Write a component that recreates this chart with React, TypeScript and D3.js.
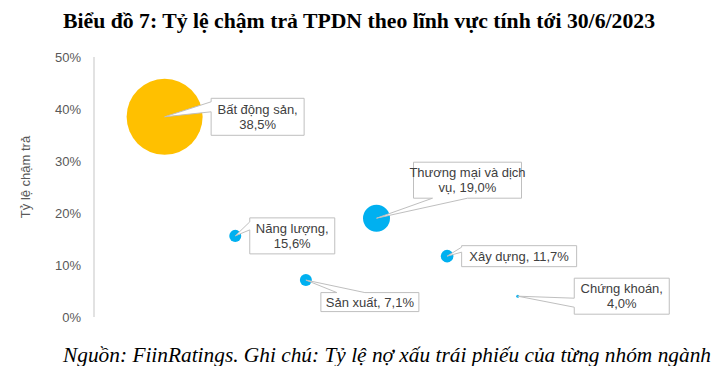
import React from 'react';
import * as d3 from 'd3';

// dữ liệu
const sectors = ['Bất động sản', 'Năng lượng', 'Sản xuất', 'Thương mại và dịch vụ', 'Xây dựng', 'Chứng khoán'];
const order = [1, 2, 3, 4, 5, 6];
const lateRate = [38.5, 15.6, 7.1, 19.0, 11.7, 4.0];
const bubbleSize = [100, 2.5, 2.5, 12.6, 2.75, 0.16];
const yTicks = [0, 10, 20, 30, 40, 50];

// vị trí nhãn (callout) so với tâm bong bóng
const callouts = [
  { dx: 93, dy: 0, w: 93, h: 37, breakAt: 3, side: 'left', b1: -15, b2: -5 },
  { dx: 57, dy: 0, w: 85, h: 36, breakAt: 2, side: 'left', b1: -14, b2: -6 },
  { dx: 64, dy: 22, w: 98, h: 19, breakAt: 0, side: 'top', b1: 31, b2: 59 },
  { dx: 91, dy: -38, w: 108, h: 36, breakAt: 4, side: 'bottom', b1: 56, b2: 91 },
  { dx: 72, dy: 0, w: 115, h: 21, breakAt: 0, side: 'left', b1: -9, b2: -4 },
  { dx: 104, dy: 0, w: 95, h: 36, breakAt: 2, side: 'left', b1: 2, b2: 11 },
];

const Width = 718;
const Height = 366;
const margin = { top: 57, right: 59, bottom: 49, left: 94 };

const fmt = (v: number) => v.toFixed(1).replace('.', ',') + '%';

const calloutPath = (cx: number, cy: number, c: any) => {
  const x0 = cx + c.dx - c.w / 2;
  const x1 = x0 + c.w;
  const y0 = cy + c.dy - c.h / 2;
  const y1 = y0 + c.h;
  if (c.side === 'left') {
    return `M${x0},${y0}H${x1}V${y1}H${x0}V${cy + c.b2}L${cx},${cy}L${x0},${cy + c.b1}Z`;
  }
  if (c.side === 'top') {
    return `M${x0},${y0}H${cx + c.b1}L${cx},${cy}L${cx + c.b2},${y0}H${x1}V${y1}H${x0}Z`;
  }
  return `M${x0},${y0}H${x1}V${y1}H${cx + c.b2}L${cx},${cy}L${cx + c.b1},${y1}H${x0}Z`;
};

const App = () => {
  const chartWidth = Width - margin.left - margin.right;
  const chartHeight = Height - margin.top - margin.bottom;

  const xScale = d3.scaleLinear().domain([0, 8]).range([0, chartWidth]);
  const yScale = d3.scaleLinear().domain([0, 50]).range([chartHeight, 0]);
  const rScale = d3.scaleSqrt().domain([0, d3.max(bubbleSize) as number]).range([0, 38]);

  const points = sectors.map((name, i) => ({
    name,
    x: xScale(order[i]),
    y: yScale(lateRate[i]),
    r: rScale(bubbleSize[i]),
    color: i === 0 ? '#FFC000' : '#00B0F0',
    c: callouts[i],
    words: `${name}, ${fmt(lateRate[i])}`.split(' '),
  }));

  return (
    <svg width={Width} height={Height} style={{ position: 'absolute', left: 0, top: 0, background: '#fff' }}>
      <text x={359} y={28} textAnchor="middle" fontFamily="'Liberation Serif', serif" fontWeight="bold" fontSize={21}
        textLength={592} lengthAdjust="spacingAndGlyphs" fill="#000">
        Biểu đồ 7: Tỷ lệ chậm trả TPDN theo lĩnh vực tính tới 30/6/2023
      </text>

      <g transform={`translate(${margin.left}, ${margin.top})`} fontFamily="'Liberation Sans', Arial, sans-serif">
        <line x1={0} x2={0} y1={0} y2={chartHeight} stroke="#d9d9d9" strokeWidth={1.5} />
        {yTicks.map((t) => (
          <text key={t} x={-13} y={yScale(t)} dy="0.35em" textAnchor="end" fontSize={13} fill="#595959">
            {t}%
          </text>
        ))}
        <text transform={`translate(-69, ${chartHeight / 2 - 10}) rotate(-90)`} textAnchor="middle" dy="0.35em" fontSize={13} fill="#595959">
          Tỷ lệ chậm trả
        </text>

        {points.map((d) => (
          <circle key={d.name} cx={d.x} cy={d.y} r={d.r} fill={d.color} />
        ))}

        {points.map((d) => {
          const lines = d.c.breakAt
            ? [d.words.slice(0, d.c.breakAt).join(' '), d.words.slice(d.c.breakAt).join(' ')]
            : [d.words.join(' ')];
          const tx = d.x + d.c.dx;
          const ty = d.y + d.c.dy - ((lines.length - 1) * 15) / 2;
          return (
            <g key={d.name}>
              <path d={calloutPath(d.x, d.y, d.c)} fill="#fff" stroke="#bfbfbf" strokeWidth={1} />
              {lines.map((l, j) => (
                <text key={j} x={tx} y={ty + j * 15} dy="0.35em" textAnchor="middle" fontSize={13} fill="#404040">
                  {l}
                </text>
              ))}
            </g>
          );
        })}
      </g>

      <text x={387} y={362} textAnchor="middle" fontFamily="'Liberation Serif', serif" fontStyle="italic" fontSize={21}
        textLength={648} lengthAdjust="spacingAndGlyphs" fill="#000">
        Nguồn: FiinRatings. Ghi chú: Tỷ lệ nợ xấu trái phiếu của từng nhóm ngành
      </text>
    </svg>
  );
};

export default App;
